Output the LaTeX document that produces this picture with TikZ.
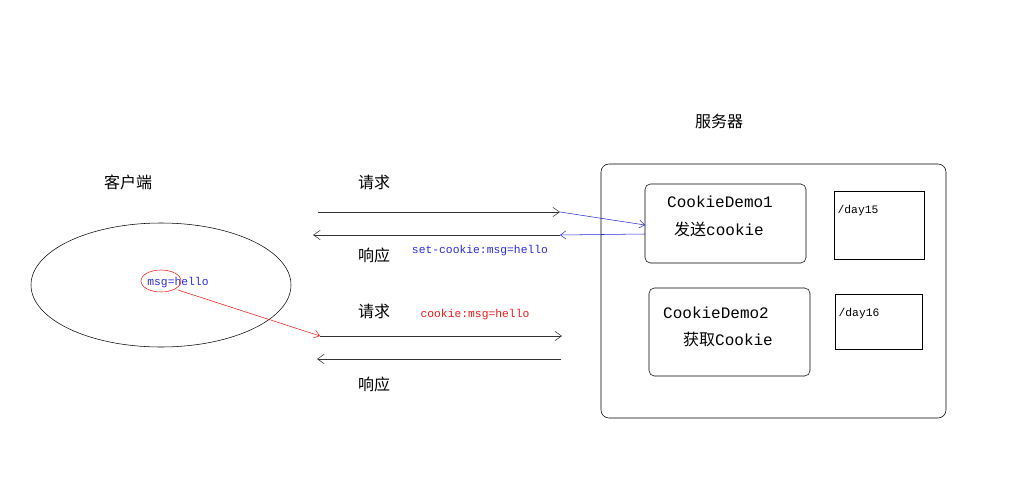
\documentclass[tikz,border=0pt]{standalone}
\usepackage{fontspec}
\newfontfamily\cjk{Noto Sans CJK SC}
\setmonofont{Liberation Mono}
\usetikzlibrary{arrows.meta}

\definecolor{SetBlue}{HTML}{2A2AE0}
\definecolor{SendRed}{HTML}{F01818}

\tikzset{
  msgarrow/.style={draw=black!80, -{Straight Barb[length=5pt,width=7pt]}},
  cjklabel/.style={font=\cjk\fontsize{12}{14}\selectfont, inner sep=0pt},
  codelabel/.style={font=\ttfamily\fontsize{8.5}{10}\selectfont, inner sep=0pt},
  servlet/.style={draw, rounded corners=4pt},
  pathbox/.style={draw}
}

\begin{document}
\begin{tikzpicture}[x=0.75pt, y=-0.75pt]

 \useasboundingbox (0,0) rectangle (1017,485);

 %%%%%%%%%% Client %%%%%%%%%%
 \node[cjklabel] (client) at (128,182) {客户端};
 \draw (161,285) ellipse [x radius=130, y radius=62];
 \node[codelabel, text=SetBlue] (msg) at (178,283) {msg=hello};
 \draw[SendRed] (161,281) ellipse [x radius=20, y radius=11];
 \coordinate (msgfoot) at (178,290);

 %%%%%%%%%% Server %%%%%%%%%%
 \node[cjklabel] (server) at (719,121) {服务器};
 \draw[rounded corners=6pt] (601,164) rectangle (946,418);

 \draw[servlet] (645,184) rectangle (806,263);
 \node[font=\ttfamily\fontsize{12}{14}\selectfont, inner sep=0pt] (demoa) at (720,202) {CookieDemo1};
 \node[cjklabel] (senda) at (719,229) {发送\texttt{cookie}};
 \draw[pathbox] (834,191) rectangle (924,259);
 \node[codelabel] (daya) at (858,211) {/day15};

 \draw[servlet] (649,288) rectangle (810,376);
 \node[font=\ttfamily\fontsize{12}{14}\selectfont, inner sep=0pt] (demob) at (716,313) {CookieDemo2};
 \node[cjklabel] (getb) at (728,339) {获取\texttt{Cookie}};
 \draw[pathbox] (835,294) rectangle (922,349);
 \node[codelabel] (dayb) at (859,314) {/day16};

 %%%%%%%%%% First exchange %%%%%%%%%%
 \coordinate (reqa0) at (318,212);
 \coordinate (reqa1) at (560,212);
 \coordinate (resa0) at (560,235);
 \coordinate (resa1) at (313,235);
 \coordinate (demoain) at (645,225);
 \coordinate (demoaout) at (645,234);
 \node[cjklabel] (reqlabela) at (374,182) {请求};
 \node[cjklabel] (reslabela) at (374,255) {响应};
 \draw[msgarrow] (reqa0) -- (reqa1);
 \draw[msgarrow] (resa0) -- (resa1);
 \draw[SetBlue, -{Straight Barb[length=4pt,width=6pt]}] (reqa1) -- (demoain);
 \draw[SetBlue, -{Straight Barb[length=4pt,width=6pt]}] (demoaout) -- (resa0);
 \node[codelabel, text=SetBlue] (setcookie) at (480,251) {set-cookie:msg=hello};

 %%%%%%%%%% Second exchange %%%%%%%%%%
 \coordinate (reqb0) at (320,336);
 \coordinate (reqb1) at (562,336);
 \coordinate (resb0) at (561,359);
 \coordinate (resb1) at (317,359);
 \node[cjklabel] (reqlabelb) at (374,311) {请求};
 \node[cjklabel] (reslabelb) at (374,384) {响应};
 \draw[msgarrow] (reqb0) -- (reqb1);
 \draw[msgarrow] (resb0) -- (resb1);
 \node[codelabel, text=SendRed] (cookie) at (475,315) {cookie:msg=hello};
 \draw[SendRed, -{Straight Barb[length=4pt,width=6pt]}] (msgfoot) -- (reqb0);

\end{tikzpicture}
\end{document}
